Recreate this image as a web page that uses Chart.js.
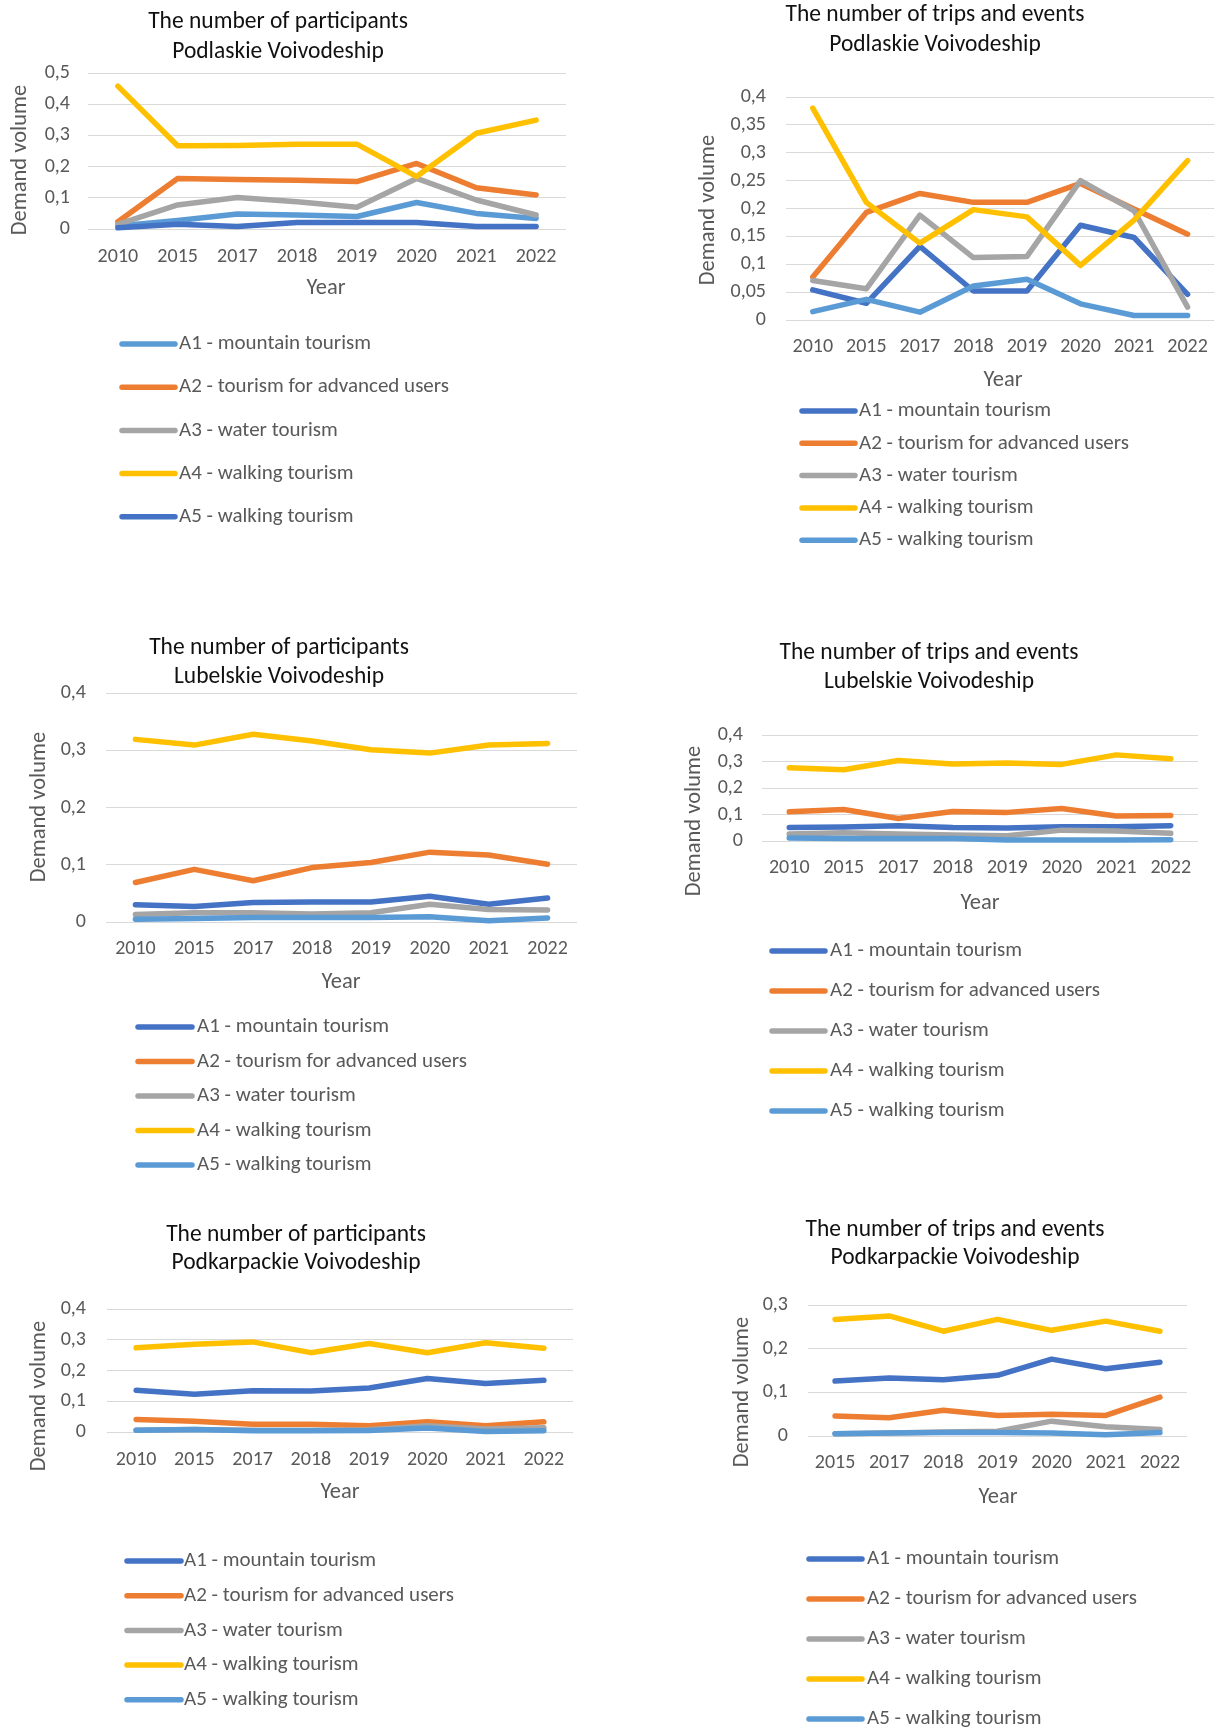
<!DOCTYPE html>
<html>
<head>
<meta charset="utf-8">
<script src="https://cdn.jsdelivr.net/npm/chart.js@4.4.1/dist/chart.umd.min.js"></script>
<style>
  html, body { margin: 0; padding: 0; background: #ffffff; }
  body { position: relative; width: 1223px; height: 1731px; overflow: hidden; }
  canvas { position: absolute; }
</style>
</head>
<body>
<script>
// ---- categories ----
const yearsFrom2010 = ['2010', '2015', '2017', '2018', '2019', '2020', '2021', '2022'];
const yearsFrom2015 = ['2015', '2017', '2018', '2019', '2020', '2021', '2022'];

// ---- series names ----
const seriesNames = [
  'A1 - mountain tourism',
  'A2 - tourism for advanced users',
  'A3 - water tourism',
  'A4 - walking tourism',
  'A5 - walking tourism'
];

// ---- Podlaskie: participants ----
const podlaskiePartA1 = [0.010, 0.027, 0.048, 0.045, 0.040, 0.085, 0.050, 0.034];
const podlaskiePartA2 = [0.023, 0.162, 0.159, 0.156, 0.152, 0.210, 0.132, 0.109];
const podlaskiePartA3 = [0.015, 0.077, 0.101, 0.087, 0.070, 0.162, 0.093, 0.045];
const podlaskiePartA4 = [0.458, 0.267, 0.268, 0.272, 0.272, 0.168, 0.307, 0.349];
const podlaskiePartA5 = [0.004, 0.015, 0.008, 0.021, 0.021, 0.021, 0.008, 0.008];

// ---- Podlaskie: trips and events ----
const podlaskieTripA1 = [0.054, 0.030, 0.132, 0.052, 0.052, 0.170, 0.148, 0.046];
const podlaskieTripA2 = [0.077, 0.193, 0.227, 0.211, 0.211, 0.245, 0.199, 0.154];
const podlaskieTripA3 = [0.071, 0.056, 0.188, 0.112, 0.114, 0.250, 0.196, 0.023];
const podlaskieTripA4 = [0.380, 0.211, 0.138, 0.198, 0.185, 0.098, 0.179, 0.286];
const podlaskieTripA5 = [0.015, 0.037, 0.014, 0.061, 0.073, 0.029, 0.008, 0.008];

// ---- Lubelskie: participants ----
const lubelskiePartA1 = [0.030, 0.027, 0.034, 0.035, 0.035, 0.045, 0.031, 0.042];
const lubelskiePartA2 = [0.069, 0.092, 0.072, 0.095, 0.104, 0.122, 0.117, 0.101];
const lubelskiePartA3 = [0.013, 0.016, 0.016, 0.014, 0.016, 0.031, 0.022, 0.021];
const lubelskiePartA4 = [0.319, 0.309, 0.328, 0.316, 0.301, 0.295, 0.309, 0.312];
const lubelskiePartA5 = [0.005, 0.006, 0.008, 0.008, 0.008, 0.009, 0.002, 0.007];

// ---- Lubelskie: trips and events ----
const lubelskieTripA1 = [0.051, 0.053, 0.058, 0.051, 0.049, 0.054, 0.054, 0.058];
const lubelskieTripA2 = [0.110, 0.119, 0.085, 0.111, 0.108, 0.123, 0.094, 0.096];
const lubelskieTripA3 = [0.026, 0.031, 0.026, 0.023, 0.020, 0.041, 0.038, 0.029];
const lubelskieTripA4 = [0.276, 0.269, 0.304, 0.291, 0.294, 0.289, 0.325, 0.310];
const lubelskieTripA5 = [0.011, 0.009, 0.009, 0.009, 0.004, 0.004, 0.004, 0.005];

// ---- Podkarpackie: participants ----
const podkarpackiePartA1 = [0.136, 0.123, 0.134, 0.133, 0.143, 0.174, 0.158, 0.168];
const podkarpackiePartA2 = [0.041, 0.035, 0.025, 0.025, 0.020, 0.033, 0.020, 0.033];
const podkarpackiePartA3 = [0.006, 0.008, 0.006, 0.006, 0.007, 0.020, 0.010, 0.014];
const podkarpackiePartA4 = [0.274, 0.285, 0.293, 0.258, 0.288, 0.258, 0.290, 0.272];
const podkarpackiePartA5 = [0.006, 0.008, 0.004, 0.004, 0.005, 0.013, 0.002, 0.004];

// ---- Podkarpackie: trips and events (from 2015) ----
const podkarpackieTripA1 = [0.126, 0.133, 0.129, 0.139, 0.176, 0.154, 0.169];
const podkarpackieTripA2 = [0.046, 0.042, 0.059, 0.047, 0.050, 0.047, 0.089];
const podkarpackieTripA3 = [0.005, 0.007, 0.009, 0.011, 0.034, 0.021, 0.015];
const podkarpackieTripA4 = [0.267, 0.275, 0.240, 0.267, 0.242, 0.263, 0.240];
const podkarpackieTripA5 = [0.005, 0.007, 0.008, 0.008, 0.007, 0.003, 0.008];

// ---- palette ----
const DARK_BLUE = '#4472C4', ORANGE = '#ED7D31', GREY = '#A5A5A5', GOLD = '#FFC000', LIGHT_BLUE = '#5B9BD5';
const paletteA1Light = [LIGHT_BLUE, ORANGE, GREY, GOLD, DARK_BLUE];
const paletteA1Dark  = [DARK_BLUE, ORANGE, GREY, GOLD, LIGHT_BLUE];

const FONT = 'Carlito, Calibri, Lato, sans-serif';
const TEXT_GREY = '#595959';

// ---- panel layout (page pixels) ----
const panels = [
  {
    box: { x: 0, y: 0, w: 611, h: 560 },
    title: ['The number of participants', 'Podlaskie Voivodeship'], titleX: 278, titleY: [22, 52],
    area: { l: 88, t: 73, r: 566, b: 229 }, yTickRight: 70, xTickY: 257,
    yTitle: { x: 20, y: 160 }, xTitle: { x: 326, y: 288 },
    legend: { x1: 122, x2: 175, tx: 179, y0: 344, dy: 43.2 },
    yMax: 0.5, yStep: 0.1, labels: yearsFrom2010, palette: paletteA1Light,
    series: [podlaskiePartA1, podlaskiePartA2, podlaskiePartA3, podlaskiePartA4, podlaskiePartA5]
  },
  {
    box: { x: 611, y: 0, w: 612, h: 600 },
    title: ['The number of trips and events', 'Podlaskie Voivodeship'], titleX: 935, titleY: [15, 45],
    area: { l: 786, t: 97, r: 1221, b: 320 }, yTickRight: 766, xTickY: 347,
    yTitle: { x: 708, y: 210 }, xTitle: { x: 1003, y: 380 },
    legend: { x1: 802, x2: 855, tx: 859, y0: 411, dy: 32.3 },
    yMax: 0.4, yStep: 0.05, labels: yearsFrom2010, palette: paletteA1Dark,
    series: [podlaskieTripA1, podlaskieTripA2, podlaskieTripA3, podlaskieTripA4, podlaskieTripA5]
  },
  {
    box: { x: 0, y: 600, w: 611, h: 590 },
    title: ['The number of participants', 'Lubelskie Voivodeship'], titleX: 279, titleY: [648, 677],
    area: { l: 106, t: 693, r: 577, b: 922 }, yTickRight: 86, xTickY: 949,
    yTitle: { x: 39, y: 807 }, xTitle: { x: 341, y: 982 },
    legend: { x1: 138, x2: 192, tx: 197, y0: 1027, dy: 34.5 },
    yMax: 0.4, yStep: 0.1, labels: yearsFrom2010, palette: paletteA1Dark,
    series: [lubelskiePartA1, lubelskiePartA2, lubelskiePartA3, lubelskiePartA4, lubelskiePartA5]
  },
  {
    box: { x: 611, y: 600, w: 612, h: 560 },
    title: ['The number of trips and events', 'Lubelskie Voivodeship'], titleX: 929, titleY: [653, 682],
    area: { l: 762, t: 735, r: 1198, b: 841 }, yTickRight: 743, xTickY: 868,
    yTitle: { x: 694, y: 821 }, xTitle: { x: 980, y: 903 },
    legend: { x1: 772, x2: 825, tx: 830, y0: 951, dy: 40 },
    yMax: 0.4, yStep: 0.1, labels: yearsFrom2010, palette: paletteA1Dark,
    series: [lubelskieTripA1, lubelskieTripA2, lubelskieTripA3, lubelskieTripA4, lubelskieTripA5]
  },
  {
    box: { x: 0, y: 1190, w: 611, h: 541 },
    title: ['The number of participants', 'Podkarpackie Voivodeship'], titleX: 296, titleY: [1235, 1263],
    area: { l: 107, t: 1309, r: 573, b: 1432 }, yTickRight: 86, xTickY: 1460,
    yTitle: { x: 39, y: 1396 }, xTitle: { x: 340, y: 1492 },
    legend: { x1: 127, x2: 181, tx: 184, y0: 1561, dy: 34.7 },
    yMax: 0.4, yStep: 0.1, labels: yearsFrom2010, palette: paletteA1Dark,
    series: [podkarpackiePartA1, podkarpackiePartA2, podkarpackiePartA3, podkarpackiePartA4, podkarpackiePartA5]
  },
  {
    box: { x: 611, y: 1190, w: 612, h: 541 },
    title: ['The number of trips and events', 'Podkarpackie Voivodeship'], titleX: 955, titleY: [1230, 1258],
    area: { l: 808, t: 1305, r: 1187, b: 1436 }, yTickRight: 788, xTickY: 1463,
    yTitle: { x: 742, y: 1392 }, xTitle: { x: 998, y: 1497 },
    legend: { x1: 809, x2: 862, tx: 867, y0: 1559, dy: 40 },
    yMax: 0.3, yStep: 0.1, labels: yearsFrom2015, palette: paletteA1Dark,
    series: [podkarpackieTripA1, podkarpackieTripA2, podkarpackieTripA3, podkarpackieTripA4, podkarpackieTripA5]
  }
];

const SIZES = { title: 23.5, tick: 20, axisTitle: 22.5, legend: 21 };
const LINE_WIDTH = 5.5;

// decimal comma tick labels: 0,05 / 0,1 / 0
function commaLabel(v) {
  return String(Math.round(v * 1000) / 1000).replace('.', ',');
}

// Draws panel titles, axis titles and the per-series key below each plot
const panelText = {
  id: 'panelText',
  afterDraw(chart, args, o) {
    const ctx = chart.ctx;
    const ox = o.box.x, oy = o.box.y;
    ctx.save();
    ctx.textBaseline = 'middle';

    ctx.fillStyle = '#111111';
    ctx.textAlign = 'center';
    ctx.font = `${SIZES.title}px ${FONT}`;
    o.title.forEach((line, i) => ctx.fillText(line, o.titleX - ox, o.titleY[i] - oy));

    ctx.fillStyle = TEXT_GREY;
    ctx.font = `${SIZES.axisTitle}px ${FONT}`;
    ctx.fillText('Year', o.xTitle.x - ox, o.xTitle.y - oy);
    ctx.save();
    ctx.translate(o.yTitle.x - ox, o.yTitle.y - oy);
    ctx.rotate(-Math.PI / 2);
    ctx.fillText('Demand volume', 0, 0);
    ctx.restore();

    ctx.font = `${SIZES.legend}px ${FONT}`;
    ctx.textAlign = 'left';
    chart.data.datasets.forEach((ds, i) => {
      const y = o.legend.y0 + i * o.legend.dy - oy;
      ctx.strokeStyle = ds.borderColor;
      ctx.lineWidth = LINE_WIDTH;
      ctx.lineCap = 'round';
      ctx.beginPath();
      ctx.moveTo(o.legend.x1 - ox, y);
      ctx.lineTo(o.legend.x2 - ox, y);
      ctx.stroke();
      ctx.fillStyle = TEXT_GREY;
      ctx.fillText(ds.label, o.legend.tx - ox, y);
    });
    ctx.restore();
  }
};

panels.forEach(p => {
  const c = document.createElement('canvas');
  c.width = p.box.w; c.height = p.box.h;
  c.style.left = p.box.x + 'px'; c.style.top = p.box.y + 'px';
  c.style.width = p.box.w + 'px'; c.style.height = p.box.h + 'px';
  document.body.appendChild(c);

  const datasets = p.series.map((vals, i) => ({
    label: seriesNames[i],
    data: vals,
    borderColor: p.palette[i],
    backgroundColor: p.palette[i],
    borderWidth: LINE_WIDTH,
    borderJoinStyle: 'round',
    borderCapStyle: 'round',
    pointRadius: 0,
    tension: 0,
    fill: false,
    clip: false,
    order: 5 - i
  }));

  const yAxisWidth = p.area.l - p.box.x;
  const xAxisHeight = p.box.y + p.box.h - p.area.b;

  new Chart(c, {
    type: 'line',
    data: { labels: p.labels, datasets },
    options: {
      responsive: false,
      animation: false,
      devicePixelRatio: 1,
      layout: {
        padding: {
          left: 0,
          top: p.area.t - p.box.y,
          right: p.box.x + p.box.w - p.area.r,
          bottom: 0
        }
      },
      plugins: {
        legend: { display: false },
        title: { display: false },
        tooltip: { enabled: false },
        panelText: p
      },
      scales: {
        x: {
          offset: true,
          grid: { display: false, drawTicks: false },
          border: { display: false },
          ticks: {
            color: TEXT_GREY,
            font: { family: FONT, size: SIZES.tick },
            padding: p.xTickY - p.area.b - SIZES.tick * 0.6,
            maxRotation: 0,
            autoSkip: false
          },
          afterFit: s => { s.height = xAxisHeight; }
        },
        y: {
          min: 0,
          max: p.yMax,
          grid: { color: '#D9D9D9', lineWidth: 1, drawTicks: false },
          border: { display: false },
          ticks: {
            stepSize: p.yStep,
            maxTicksLimit: 20,
            autoSkip: false,
            color: TEXT_GREY,
            font: { family: FONT, size: SIZES.tick },
            padding: p.area.l - p.yTickRight,
            callback: v => commaLabel(v)
          },
          afterFit: s => { s.width = yAxisWidth; }
        }
      }
    },
    plugins: [panelText]
  });
});
</script>
</body>
</html>
